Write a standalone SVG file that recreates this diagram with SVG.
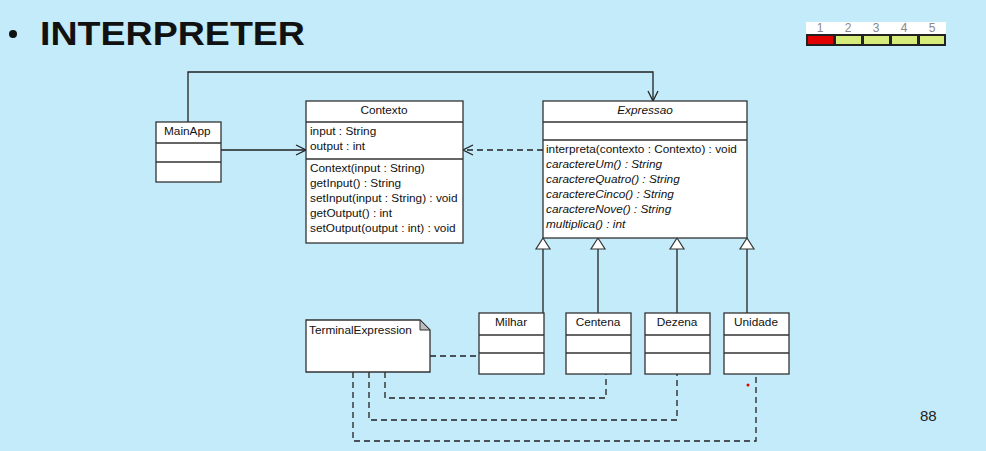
<svg xmlns="http://www.w3.org/2000/svg" width="986" height="451" viewBox="0 0 986 451">
<defs>
<style>
.bg{fill:#c3ebfa}
.box{fill:#ffffff;stroke:#333333;stroke-width:1.3}
.div{stroke:#333333;stroke-width:1.3}
.t{font-family:"Liberation Sans",Arial,sans-serif;font-size:11.8px;fill:#111111}
.c{text-anchor:middle}
.i{font-style:italic}
.ln{fill:none;stroke:#222222;stroke-width:1.3}
.dash{fill:none;stroke:#222222;stroke-width:1.3;stroke-dasharray:6 4}
.tri{fill:#ffffff;stroke:#333333;stroke-width:1.2}
</style>
<marker id="open" viewBox="0 0 12 12" refX="11" refY="6" markerWidth="12" markerHeight="12" markerUnits="userSpaceOnUse" orient="auto">
<path d="M1,1 L11,6 L1,11" fill="none" stroke="#222222" stroke-width="1.3"/>
</marker>
</defs>
<rect class="bg" x="0" y="0" width="986" height="451"/>

<g id="title">
<circle cx="13" cy="34" r="4" fill="#111111"/>
<text x="40" y="45" font-family="Liberation Sans,Arial,sans-serif" font-size="33" font-weight="bold" fill="#111111" textLength="265" lengthAdjust="spacingAndGlyphs">INTERPRETER</text>
</g>

<g id="progress">
<rect x="806" y="22" width="140" height="12" fill="#ffffff"/>
<g font-family="Liberation Sans,Arial,sans-serif" font-size="12" fill="#888888" text-anchor="middle">
<text x="820" y="32">1</text><text x="848" y="32">2</text><text x="876" y="32">3</text><text x="904" y="32">4</text><text x="932" y="32">5</text>
</g>
<rect x="806" y="34" width="140" height="12" fill="#222222"/>
<rect x="808" y="36" width="25" height="8" fill="#e00000"/>
<rect x="836" y="36" width="25" height="8" fill="#d6ec7a"/>
<rect x="864" y="36" width="25" height="8" fill="#d6ec7a"/>
<rect x="892" y="36" width="25" height="8" fill="#d6ec7a"/>
<rect x="920" y="36" width="24" height="8" fill="#d6ec7a"/>
</g>

<g id="connectors">
<polyline class="ln" points="188,122 188,72 653,72 653,101" marker-end="url(#open)"/>
<line class="ln" x1="221" y1="150" x2="306" y2="150" marker-end="url(#open)"/>
<line class="dash" x1="543" y1="150" x2="463" y2="150" marker-end="url(#open)"/>
<line class="ln" x1="543" y1="249" x2="543" y2="313"/>
<line class="ln" x1="598" y1="249" x2="598" y2="313"/>
<line class="ln" x1="677" y1="249" x2="677" y2="313"/>
<line class="ln" x1="747" y1="249" x2="747" y2="313"/>
<path class="tri" d="M543,238 L536,249 L550,249 Z"/>
<path class="tri" d="M598,238 L591,249 L605,249 Z"/>
<path class="tri" d="M677,238 L670,249 L684,249 Z"/>
<path class="tri" d="M747,238 L740,249 L754,249 Z"/>
<line class="dash" x1="430" y1="356" x2="479" y2="356"/>
<polyline class="dash" points="385,372 385,398 606,398 606,374"/>
<polyline class="dash" points="369,372 369,420 677,420 677,374"/>
<polyline class="dash" points="353,372 353,441 756,441 756,374"/>
</g>

<g id="MainApp">
<rect class="box" x="156" y="122" width="65" height="60"/>
<line class="div" x1="156" y1="143" x2="221" y2="143"/>
<line class="div" x1="156" y1="162" x2="221" y2="162"/>
<text class="t" x="164" y="135">MainApp</text>
</g>

<g id="Contexto">
<rect class="box" x="306" y="101" width="157" height="142"/>
<line class="div" x1="306" y1="122" x2="463" y2="122"/>
<line class="div" x1="306" y1="159" x2="463" y2="159"/>
<text class="t c" x="384" y="114">Contexto</text>
<text class="t" x="310" y="135">input : String</text>
<text class="t" x="310" y="150">output : int</text>
<text class="t" x="310" y="172">Context(input : String)</text>
<text class="t" x="310" y="187">getInput() : String</text>
<text class="t" x="310" y="202">setInput(input : String) : void</text>
<text class="t" x="310" y="217">getOutput() : int</text>
<text class="t" x="310" y="232">setOutput(output : int) : void</text>
</g>

<g id="Expressao">
<rect class="box" x="543" y="101" width="204" height="137"/>
<line class="div" x1="543" y1="122" x2="747" y2="122"/>
<line class="div" x1="543" y1="140" x2="747" y2="140"/>
<text class="t c i" x="645" y="114">Expressao</text>
<text class="t" x="546" y="153">interpreta(contexto : Contexto) : void</text>
<text class="t i" x="546" y="168">caractereUm() : String</text>
<text class="t i" x="546" y="183">caractereQuatro() : String</text>
<text class="t i" x="546" y="198">caractereCinco() : String</text>
<text class="t i" x="546" y="213">caractereNove() : String</text>
<text class="t i" x="546" y="228">multiplica() : int</text>
</g>

<g id="Milhar">
<rect class="box" x="479" y="313" width="65" height="61"/>
<line class="div" x1="479" y1="335" x2="544" y2="335"/>
<line class="div" x1="479" y1="353" x2="544" y2="353"/>
<text class="t c" x="511" y="326">Milhar</text>
</g>

<g id="Centena">
<rect class="box" x="566" y="313" width="65" height="61"/>
<line class="div" x1="566" y1="335" x2="631" y2="335"/>
<line class="div" x1="566" y1="353" x2="631" y2="353"/>
<text class="t c" x="598" y="326">Centena</text>
</g>

<g id="Dezena">
<rect class="box" x="645" y="313" width="65" height="61"/>
<line class="div" x1="645" y1="335" x2="710" y2="335"/>
<line class="div" x1="645" y1="353" x2="710" y2="353"/>
<text class="t c" x="677" y="326">Dezena</text>
</g>

<g id="Unidade">
<rect class="box" x="724" y="313" width="65" height="61"/>
<line class="div" x1="724" y1="335" x2="789" y2="335"/>
<line class="div" x1="724" y1="353" x2="789" y2="353"/>
<text class="t c" x="756" y="326">Unidade</text>
</g>

<g id="TerminalExpression">
<path d="M306,320 L420,320 L430,330 L430,372 L306,372 Z" fill="#ffffff" stroke="#333333" stroke-width="1.3"/>
<path d="M420,320 L420,330 L430,330 Z" fill="#bbbbbb" stroke="#333333" stroke-width="1"/>
<text class="t" x="309" y="334">TerminalExpression</text>
</g>

<circle cx="748" cy="385" r="1.5" fill="#e00000"/>
<text x="920" y="421" font-family="Liberation Sans,Arial,sans-serif" font-size="15" fill="#222222">88</text>
</svg>
